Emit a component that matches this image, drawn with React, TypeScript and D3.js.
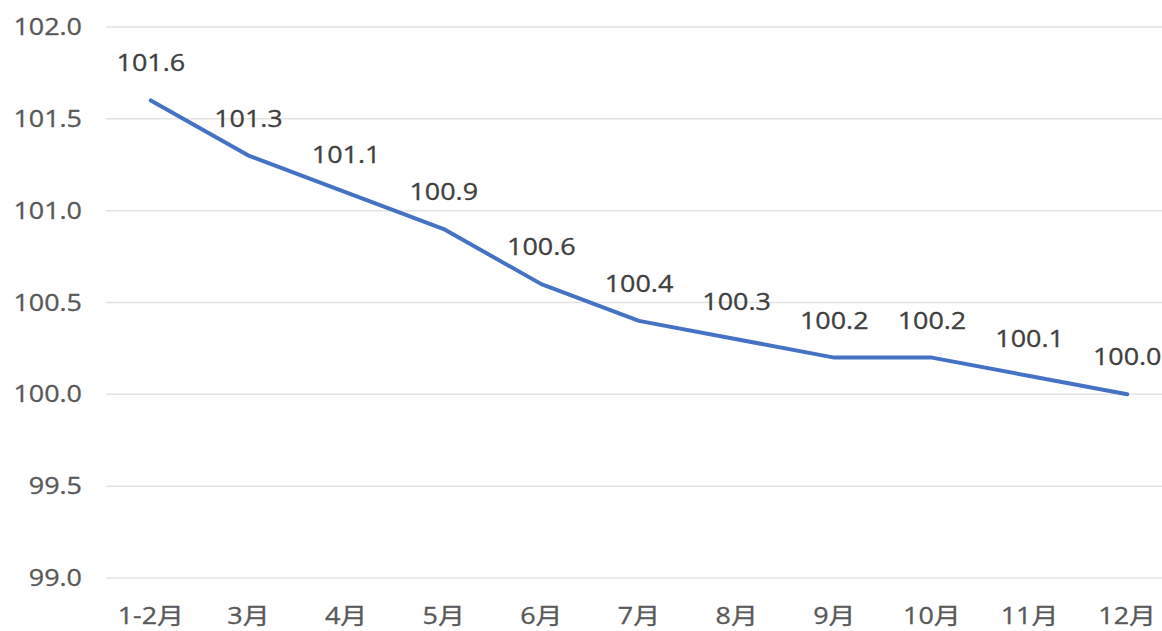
import React from "react";
import * as d3 from "d3";

const categories = ["1-2月", "3月", "4月", "5月", "6月", "7月", "8月", "9月", "10月", "11月", "12月"];
const values = [101.6, 101.3, 101.1, 100.9, 100.6, 100.4, 100.3, 100.2, 100.2, 100.1, 100.0];
const yTicks = [99.0, 99.5, 100.0, 100.5, 101.0, 101.5, 102.0];

const W = 1162;
const H = 631;
const FONT = "'Open Sans', 'Noto Sans CJK SC', sans-serif";
const SX = 1.17;

export default function App() {
  const x = d3.scaleBand<string>().domain(categories).range([102, 1176]);
  const y = d3.scaleLinear().domain([99, 102]).range([578, 27]);
  const cx = (c: string) => (x(c) as number) + x.bandwidth() / 2;
  const line = d3
    .line<number>()
    .x((_, i) => cx(categories[i]))
    .y((d) => y(d));

  const txt = (tx: number, ty: number, s: string, anchor: string, fill: string, key: string) => (
    <text
      key={key}
      transform={`translate(${tx},${ty}) scale(${SX},1)`}
      textAnchor={anchor}
      fill={fill}
      fontSize={23}
      fontFamily={FONT}
      stroke={fill}
      strokeWidth={0.3}
    >
      {s}
    </text>
  );

  return (
    <svg width={W} height={H} style={{ position: "absolute", left: 0, top: 0, background: "#fff" }}>
      {yTicks.map((t) => (
        <line key={"g" + t} x1={106} x2={W} y1={y(t)} y2={y(t)} stroke="#e3e3e3" strokeWidth={1.5} />
      ))}
      {yTicks.map((t) => txt(82, y(t) + 8, d3.format(".1f")(t), "end", "#595959", "yt" + t))}
      {categories.map((c) => txt(cx(c), 624, c, "middle", "#595959", "xt" + c))}
      <path d={line(values) as string} fill="none" stroke="#4472C4" strokeWidth={4} strokeLinejoin="round" strokeLinecap="round" />
      {values.map((v, i) => txt(cx(categories[i]), y(v) - 29, d3.format(".1f")(v), "middle", "#404040", "dl" + i))}
    </svg>
  );
}
